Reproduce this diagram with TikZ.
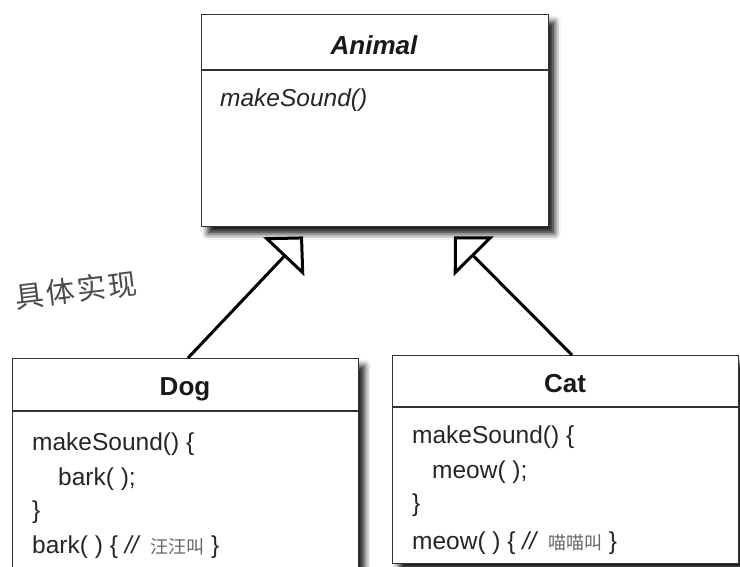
\documentclass[tikz,border=0pt]{standalone}
\usepackage{fontspec}
\setmainfont{Liberation Sans}
\newfontfamily\cjk{Noto Sans CJK SC}
\usetikzlibrary{arrows.meta,shadows.blur,calc}
\begin{document}
\begin{tikzpicture}[x=1pt,y=-1pt,
  classbox/.style={draw=black!80, line width=1.4pt, fill=white, anchor=north west, inner sep=0pt,
    blur shadow={shadow xshift=6pt, shadow yshift=-7pt, shadow blur radius=6pt, shadow opacity=90}},
  sepline/.style={draw=black!80, line width=1.4pt},
  title/.style={font=\fontsize{26}{30}\selectfont\bfseries, text=black!90, inner sep=0pt, anchor=base},
  code/.style={font=\fontsize{24.5}{28}\selectfont, text=black!85, anchor=base west, inner sep=0pt},
  inherit/.style={line width=3pt, -{Triangle[open, length=28pt, width=56pt, line width=3pt]}},
  hand/.style={font=\cjk\fontsize{29}{32}\selectfont, text=black!70, inner sep=0pt}
]
\useasboundingbox (0,0) rectangle (740,567);
\clip (0,0) rectangle (740,567);

% Animal
\node[classbox, minimum width=347, minimum height=212] (animal) at (201,14) {};
\draw[sepline] ($(animal.north west)+(0,56)$) coordinate (asepL) -- ($(animal.north east)+(0,56)$) coordinate (asepR);
\node[title] (animalname) at (374,55) {\itshape Animal};
\node[code, font=\fontsize{24.5}{28}\selectfont\itshape] (amk) at (220,107) {makeSound()};

% Dog
\node[classbox, minimum width=346, minimum height=230] (dog) at (12,358) {};
\draw[sepline] ($(dog.north west)+(0,53)$) coordinate (dsepL) -- ($(dog.north east)+(0,53)$) coordinate (dsepR);
\node[title] (dogname) at (185,395) {Dog};
\node[code] (d1) at (32,450) {makeSound() \{};
\node[code] (d2) at (58,485) {bark( );};
\node[code] (d3) at (32,518) {\}};
\node[code] (d4) at (32,553) {bark( ) \{ \textit{//} \hspace{3pt}{\cjk\fontsize{18}{20}\selectfont\color{black!60}汪汪叫} \}};

% Cat
\node[classbox, minimum width=346, minimum height=208] (cat) at (392,355) {};
\draw[sepline] ($(cat.north west)+(0,52)$) coordinate (csepL) -- ($(cat.north east)+(0,52)$) coordinate (csepR);
\node[title] (catname) at (565,392) {Cat};
\node[code] (c1) at (412,443) {makeSound() \{};
\node[code] (c2) at (432,478) {meow( );};
\node[code] (c3) at (412,511) {\}};
\node[code] (c4) at (412,549) {meow( ) \{ \textit{//} \hspace{3pt}{\cjk\fontsize{18}{20}\selectfont\color{black!60}喵喵叫} \}};

% inheritance connectors
\coordinate (tipL) at ($(animal.south west)+(102,9)$);
\coordinate (tipR) at ($(animal.south west)+(253,9)$);
\coordinate (dogtop) at (dog.north -| 188,0);
\coordinate (cattop) at (cat.north -| 572,0);
\draw[inherit] (dogtop) -- (tipL);
\draw[inherit] (cattop) -- (tipR);

% handwritten note
\node[hand, rotate=7] (note) at (76,290) {具\hspace{2pt}体\hspace{2pt}实\hspace{2pt}现};
\end{tikzpicture}
\end{document}
